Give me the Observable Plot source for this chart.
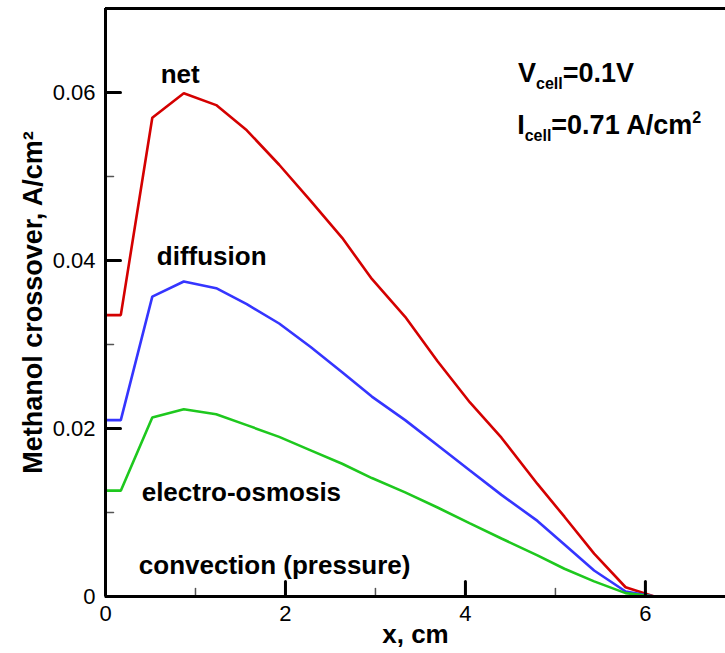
<!DOCTYPE html>
<html><head><meta charset="utf-8">
<script src="https://cdn.jsdelivr.net/npm/d3@7"></script>
<script src="https://cdn.jsdelivr.net/npm/@observablehq/plot@0.6"></script>
<style>body{margin:0;background:#fff} #chart{width:725px;height:653px}</style>
</head><body><div id="chart"></div>
<script>
// x positions along the channel, cm
const xs         = [0, 0.17, 0.52, 0.87, 1.23, 1.57, 1.93, 2.28, 2.63, 2.96, 3.33, 3.69, 4.05, 4.4, 4.8, 5.1, 5.43, 5.78, 6.1, 7];
// Methanol crossover, A/cm2
const net        = [0.0335, 0.0335, 0.0570, 0.0599, 0.0585, 0.0555, 0.0514, 0.0471, 0.0427, 0.0378, 0.0333, 0.0280, 0.0231, 0.0189, 0.0134, 0.0095, 0.0051, 0.0011, 0, 0];
const diffusion  = [0.0210, 0.0210, 0.0357, 0.0375, 0.0367, 0.0348, 0.0325, 0.0297, 0.0267, 0.0238, 0.0210, 0.0180, 0.0150, 0.0121, 0.0090, 0.0062, 0.0031, 0.0006, 0, 0];
const electro    = [0.0126, 0.0126, 0.0213, 0.0223, 0.0217, 0.0204, 0.0190, 0.0174, 0.0158, 0.0141, 0.0124, 0.0106, 0.0087, 0.0069, 0.0049, 0.0033, 0.0018, 0.0004, 0, 0];
const convection = [0, 0, 0, 0, 0, 0, 0, 0, 0, 0, 0, 0, 0, 0, 0, 0, 0, 0, 0, 0];

const seriesNames  = ["net", "diffusion", "electro-osmosis", "convection (pressure)"];
const seriesValues = [net, diffusion, electro, convection];
const seriesColors = ["#d40000", "#3535ff", "#1ec81e", "#000000"];

const xTickLabels = [0, 2, 4, 6];
const xMinorTicks = [1, 3, 5];
const yTickLabels = [0, 0.02, 0.04, 0.06];
const yMajorTicks = [0.02, 0.04, 0.06];
const yMinorTicks = [0.01, 0.03, 0.05];

const rows = seriesNames.flatMap((s, i) => xs.map((x, j) => ({series: s, x, y: seriesValues[i][j]})));

const tickShape = {draw(ctx, l) { ctx.moveTo(0, 0); ctx.lineTo(0, -l); }};
const font = "'Liberation Sans', Arial, Helvetica, sans-serif";

const plot = Plot.plot({
  width: 725, height: 653,
  marginLeft: 105, marginRight: 0, marginTop: 8, marginBottom: 57,
  x: {domain: [0, 6.89]},
  y: {domain: [0, 0.07]},
  color: {domain: seriesNames, range: seriesColors},
  style: {fontFamily: font, background: "white", color: "black"},
  marks: [
    Plot.line(rows, {x: "x", y: "y", z: "series", stroke: "series", strokeWidth: 2.6, strokeLinejoin: "miter"}),
    // inward ticks
    Plot.vector(yMajorTicks, {x: 0, y: d => d, length: 15, rotate: 90, anchor: "start", shape: tickShape, stroke: "black", strokeWidth: 3}),
    Plot.vector(yMinorTicks, {x: 0, y: d => d, length: 8, rotate: 90, anchor: "start", shape: tickShape, stroke: "#555", strokeWidth: 1.5}),
    Plot.vector(xTickLabels.slice(1), {x: d => d, y: 0, length: 15, rotate: 0, anchor: "start", shape: tickShape, stroke: "black", strokeWidth: 3}),
    Plot.vector(xMinorTicks, {x: d => d, y: 0, length: 8, rotate: 0, anchor: "start", shape: tickShape, stroke: "#555", strokeWidth: 1.5}),
    // frame
    Plot.ruleX([0], {stroke: "black", strokeWidth: 3}),
    Plot.ruleY([0], {stroke: "black", strokeWidth: 3}),
    Plot.ruleY([0.07], {stroke: "black", strokeWidth: 3}),
    // axes labels
    Plot.axisY(yTickLabels, {tickSize: 0, tickPadding: 10, fontSize: 22, label: null, tickFormat: d => d === 0 ? "0" : d.toFixed(2)}),
    Plot.axisX(xTickLabels, {tickSize: 0, tickPadding: 9, fontSize: 22, label: null, tickFormat: d => String(d)}),
    Plot.text(["x, cm"], {frameAnchor: "bottom", dy: 38, fontSize: 26, fontWeight: "bold", lineAnchor: "middle", textAnchor: "middle"}),
    Plot.text(["Methanol crossover, A/cm²"], {frameAnchor: "left", dx: -72, rotate: -90, fontSize: 27, fontWeight: "bold", lineAnchor: "middle", textAnchor: "middle"}),
    // series annotations
    Plot.text([
      {t: seriesNames[0], x: 0.83, y: 0.0621},
      {t: seriesNames[1], x: 1.18, y: 0.0404},
      {t: seriesNames[2], x: 1.51, y: 0.0124},
      {t: seriesNames[3], x: 1.88, y: 0.0037}
    ], {x: "x", y: "y", text: "t", fontSize: 26, fontWeight: "bold", lineAnchor: "middle", textAnchor: "middle", fill: "black"})
  ]
});
document.getElementById("chart").appendChild(plot);

// V_cell / I_cell annotation with subscripts
const sx = plot.scale("x"), sy = plot.scale("y");
const svg = d3.select(plot);
const ann = svg.append("g").attr("font-family", font).attr("font-weight", "bold").attr("fill", "black").attr("text-anchor", "start");
const t1 = ann.append("text").attr("x", sx.apply(4.59)).attr("y", sy.apply(0.0612)).attr("font-size", 27);
t1.append("tspan").text("V");
t1.append("tspan").attr("font-size", 16).attr("dy", 7).text("cell");
t1.append("tspan").attr("dy", -7).text("=0.1V");
const t2 = ann.append("text").attr("x", sx.apply(4.58)).attr("y", sy.apply(0.0550)).attr("font-size", 27);
t2.append("tspan").text("I");
t2.append("tspan").attr("font-size", 16).attr("dy", 7).text("cell");
t2.append("tspan").attr("dy", -7).text("=0.71 A/cm");
t2.append("tspan").attr("font-size", 16).attr("dy", -11).text("2");
</script>
</body></html>
